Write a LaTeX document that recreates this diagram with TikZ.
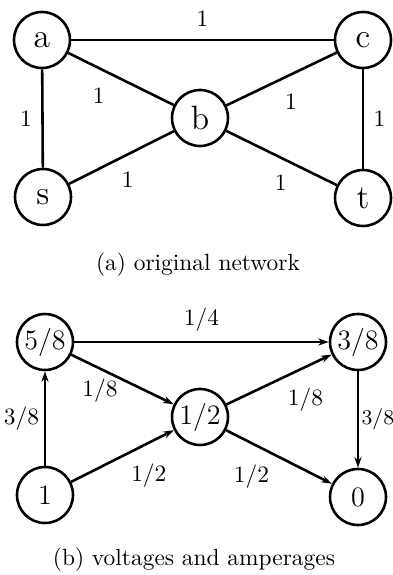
\documentclass[tikz,border=0pt]{standalone}
\usetikzlibrary{arrows.meta, positioning}

\begin{document}
\begin{tikzpicture}[x=0.6cm, y=0.6cm, >={Stealth[length=4.5pt,width=3pt]},
    vertex/.style={circle, draw, line width=1.1pt, minimum size=0.84cm, inner sep=0pt},
    wire/.style={line width=1.1pt},
    lbl/.style={font=\normalsize, inner sep=1pt}]
      \useasboundingbox (0,0) rectangle (9.825,14.375);
      % (a) original network
      \node[vertex, font=\Large] (a) at (1.05,13.375) {a};
      \node[vertex, font=\Large] (c) at (9.075,13.375) {c};
      \node[vertex, font=\Large] (b) at (5.0,11.425) {b};
      \node[vertex, font=\Large] (s) at (1.075,9.45) {s};
      \node[vertex, font=\Large] (t) at (9.075,9.425) {t};
      \draw[wire] (a) -- node[lbl, above=4pt] {1} (c);
      \draw[wire] (a) -- node[lbl, pos=0.38, below left=5pt and 0pt] {1} (b);
      \draw[wire] (a) -- node[lbl, left=3pt] {1} (s);
      \draw[wire] (b) -- node[lbl, pos=0.5, below right=5pt and 0pt] {1} (c);
      \draw[wire] (c) -- node[lbl, right=3pt] {1} (t);
      \draw[wire] (s) -- node[lbl, pos=0.47, below right=4pt and 0pt] {1} (b);
      \draw[wire] (b) -- node[lbl, pos=0.58, below left=4pt and 0pt] {1} (t);
      \node (capa) at (4.95,7.75) {(a) original network};
      % (b) voltages and amperages
      \node[vertex, font=\large] (v58) at (1.125,5.825) {5/8};
      \node[vertex, font=\large] (v38) at (8.95,5.825) {3/8};
      \node[vertex, font=\large] (v12) at (5.0,3.95) {1/2};
      \node[vertex, font=\large] (v1) at (1.125,2.0) {1};
      \node[vertex, font=\large] (v0) at (8.95,1.95) {0};
      \draw[wire, ->] (v58) -- node[lbl, above=3pt] {1/4} (v38);
      \draw[wire, ->] (v58) -- node[lbl, pos=0.28, below=3pt] {1/8} (v12);
      \draw[wire, ->] (v1) -- node[lbl, left=1pt] {3/8} (v58);
      \draw[wire, ->] (v12) -- node[lbl, pos=0.55, below right=3pt and 0pt] {1/8} (v38);
      \draw[wire, ->] (v38) -- node[lbl, font=\small, right=0pt] {3/8} (v0);
      \draw[wire, ->] (v1) -- node[lbl, pos=0.55, below right=3pt and 0pt] {1/2} (v12);
      \draw[wire, ->] (v12) -- node[lbl, pos=0.44, below left=3pt and 0pt] {1/2} (v0);
      \node (capb) at (4.85,0.375) {(b) voltages and amperages};
    \end{tikzpicture}
\end{document}
